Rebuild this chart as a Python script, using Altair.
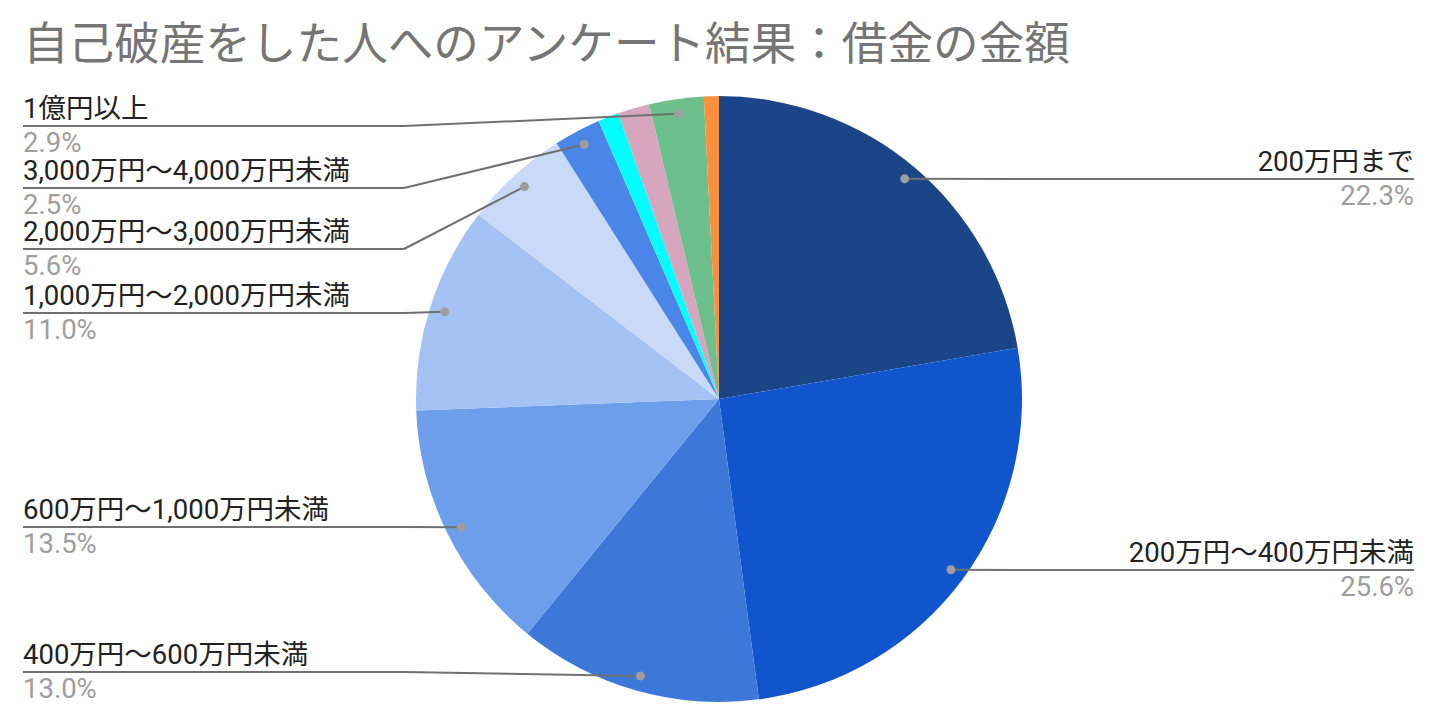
import altair as alt
import pandas as pd

# ---------------- data ----------------
categories = [
    "200万円まで",
    "200万円～400万円未満",
    "400万円～600万円未満",
    "600万円～1,000万円未満",
    "1,000万円～2,000万円未満",
    "2,000万円～3,000万円未満",
    "3,000万円～4,000万円未満",
    "4,000万円～5,000万円未満",
    "5,000万円～1億円未満",
    "1億円以上",
    "わからない",
]
values = [22.3, 25.6, 13.0, 13.5, 11.0, 5.6, 2.5, 1.1, 1.7, 2.9, 0.8]
colors = [
    "#1c4587", "#1155cc", "#3c78d8", "#6d9eeb", "#a4c2f4", "#c9daf8",
    "#4a86e8", "#00ffff", "#d5a6bd", "#6dc08b", "#fa903e",
]
title_text = "自己破産をした人へのアンケート結果：借金の金額"

# ---------------- layout (page pixels) ----------------
label_side = ["right", "right", "left", "left", "left", "left", "left", None, None, "left", None]
label_line_y = [179, 570, 672, 527, 313, 249, 188, None, None, 126, None]

PAD_TOP = 75
OX, OY = 8, 8 + PAD_TOP
W, H = 1420, 705 - PAD_TOP
CX, CY = 719 - OX, 399 - OY          # pie centre in view coords
R = 303                               # pie radius
RD = 288                              # radius where the leader dots sit
L_X1, L_ELB = 23 - OX, 404 - OX       # left label line start / elbow
R_X2, R_ELB = 1414 - OX, 1033 - OX    # right label line end / elbow
FONT = "Roboto, 'Noto Sans CJK JP', sans-serif"
LABEL_SIZE = 27.5
PCT_SIZE = 27.5

df = pd.DataFrame({
    "idx": list(range(len(categories))),
    "category": categories,
    "value": values,
    "side": label_side,
    "line_y": [None if v is None else v - OY for v in label_line_y],
})

color_scale = alt.Scale(domain=categories, range=colors)

pie = alt.Chart(df).mark_arc(outerRadius=R, stroke=None).encode(
    theta=alt.Theta("value:Q", stack=True),
    color=alt.Color("category:N", scale=color_scale, legend=None),
    order=alt.Order("idx:Q", sort="ascending"),
    x=alt.value(CX),
    y=alt.value(CY),
)

geo = (
    alt.Chart(df)
    .transform_joinaggregate(total="sum(value)")
    .transform_window(cum="sum(value)", sort=[alt.SortField("idx")], frame=[None, 0])
    .transform_calculate(
        ang="2*PI*(datum.cum - datum.value/2)/datum.total",
    )
    .transform_calculate(
        dot_x=f"{CX} + {RD}*sin(datum.ang)",
        dot_y=f"{CY} - {RD}*cos(datum.ang)",
        hx1=f"datum.side == 'left' ? {L_X1} : {R_ELB}",
        hx2=f"datum.side == 'left' ? {L_ELB} : {R_X2}",
        ex=f"datum.side == 'left' ? {L_ELB} : {R_ELB}",
        lab_y="datum.line_y - 8.5",
        pct_y="datum.line_y + 26",
        pct="format(datum.value, '.1f') + '%'",
    )
    .transform_filter("isValid(datum.side)")
)

LINE_COLOR = "#707070"
hline = geo.mark_rule(color=LINE_COLOR, strokeWidth=2).encode(
    x=alt.X("hx1:Q", scale=None, axis=None),
    x2="hx2:Q",
    y=alt.Y("line_y:Q", scale=None, axis=None),
)
dline = geo.mark_rule(color=LINE_COLOR, strokeWidth=2).encode(
    x=alt.X("ex:Q", scale=None, axis=None),
    y=alt.Y("line_y:Q", scale=None, axis=None),
    x2="dot_x:Q",
    y2="dot_y:Q",
)
dots = geo.mark_circle(color="#9e9e9e", opacity=1, size=80).encode(
    x=alt.X("dot_x:Q", scale=None, axis=None),
    y=alt.Y("dot_y:Q", scale=None, axis=None),
)

def labels(side, align, xpos):
    sub = geo.transform_filter(f"datum.side == '{side}'")
    name = sub.mark_text(align=align, baseline="alphabetic", font=FONT,
                         fontSize=LABEL_SIZE, color="#222222").encode(
        x=alt.value(xpos),
        y=alt.Y("lab_y:Q", scale=None, axis=None),
        text="category:N",
    )
    pct = sub.mark_text(align=align, baseline="alphabetic", font=FONT,
                        fontSize=PCT_SIZE, color="#9e9e9e").encode(
        x=alt.value(xpos),
        y=alt.Y("pct_y:Q", scale=None, axis=None),
        text="pct:N",
    )
    return name + pct

chart = alt.layer(
    pie, hline, dline, dots,
    labels("left", "left", L_X1),
    labels("right", "right", R_X2),
).properties(
    width=W,
    height=H,
    padding={"left": 0, "right": 0, "top": PAD_TOP, "bottom": 0},
    autosize=alt.AutoSizeParams(type="none"),
    title=alt.TitleParams(
        title_text, anchor="start", frame="group", dx=L_X1, offset=13,
        font=FONT, fontSize=45.6, fontWeight="normal", color="#757575",
    ),
).configure_view(stroke=None)

chart.save("out.html", embed_options={"renderer": "svg", "actions": False})
